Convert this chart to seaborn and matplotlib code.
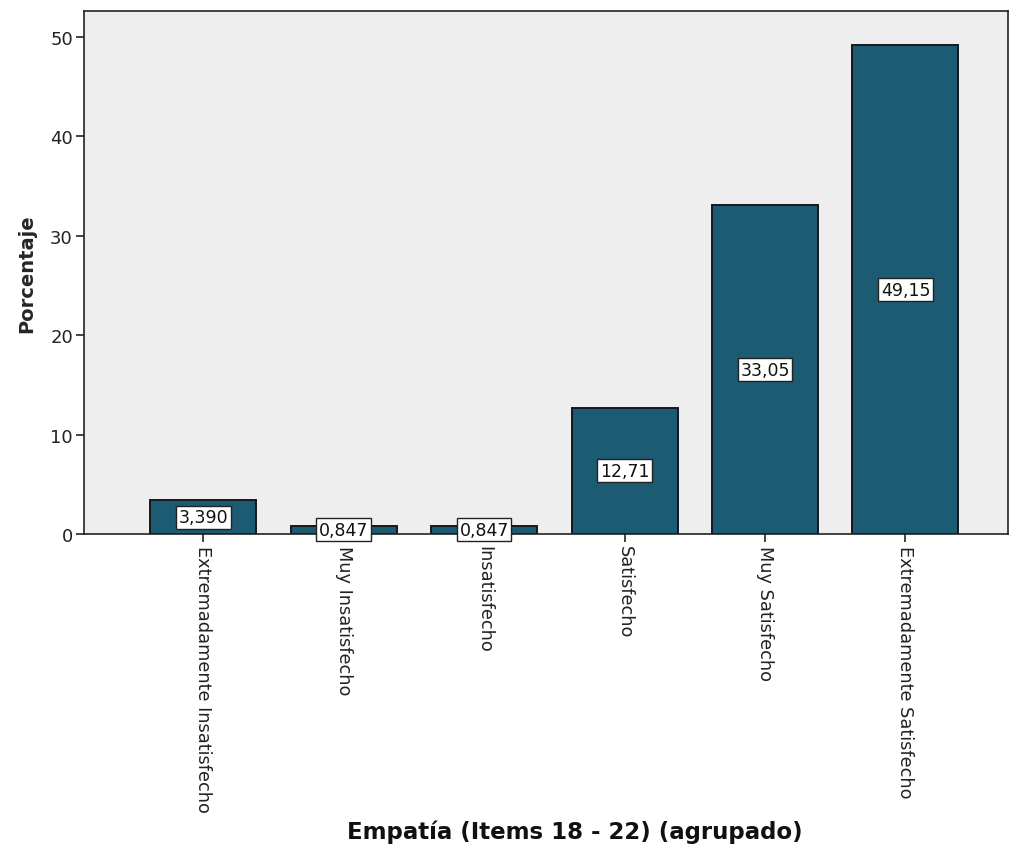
import matplotlib
matplotlib.use("Agg")
import matplotlib.pyplot as plt
import seaborn as sns
import pandas as pd

categories = [
    "Extremadamente Insatisfecho",
    "Muy Insatisfecho",
    "Insatisfecho",
    "Satisfecho",
    "Muy Satisfecho",
    "Extremadamente Satisfecho",
]
percentages = [3.390, 0.847, 0.847, 12.71, 33.05, 49.15]
value_labels = ["3,390", "0,847", "0,847", "12,71", "33,05", "49,15"]
y_ticks = [0, 10, 20, 30, 40, 50]

df = pd.DataFrame({"cat": categories, "pct": percentages})

sns.set_theme(style="white")
plt.rcParams["font.family"] = ["DejaVu Sans"]

fig = plt.figure(figsize=(10.11, 8.62), dpi=100)
ax = fig.add_axes([0.0831, 0.3794, 0.9139, 0.6066])
ax.set_facecolor("#eeeeee")

sns.barplot(data=df, x="cat", y="pct", order=categories, color="#1d5b73",
            saturation=1, width=0.755, edgecolor="#111a1f", linewidth=1.4, ax=ax)

for i, (v, lab) in enumerate(zip(percentages, value_labels)):
    ax.text(i, v / 2, lab, ha="center", va="center", fontsize=12.5, color="#111111",
            bbox=dict(boxstyle="square,pad=0.15", facecolor="white",
                      edgecolor="#222222", linewidth=1.0), zorder=5)

ax.set_xlim(-0.85, 5.73)
ax.set_ylim(0, 52.6)
ax.set_yticks(y_ticks)
ax.set_yticklabels([str(t) for t in y_ticks], fontsize=13, color="#222222")
ax.set_xticks(range(len(categories)))
ax.set_xticklabels(categories, rotation=-90, fontsize=12.8, color="#222222",
                   va="top", ha="center")
ax.tick_params(axis="both", direction="out", length=6, width=1.2, color="#222222",
               bottom=True, left=True, pad=2)

for side in ["top", "left", "right", "bottom"]:
    ax.spines[side].set_visible(True)
    ax.spines[side].set_color("#222222")
    ax.spines[side].set_linewidth(1.2)

ax.set_ylabel("Porcentaje", fontsize=14, fontweight="bold", labelpad=10)
ax.set_xlabel("")
fig.text(575 / 1011, 1 - 832 / 862, "Empatía (Items 18 - 22) (agrupado)", ha="center",
         va="center", fontsize=16.5, fontweight="bold", color="#111111")

fig.savefig("out.png", dpi=100, facecolor="white")
